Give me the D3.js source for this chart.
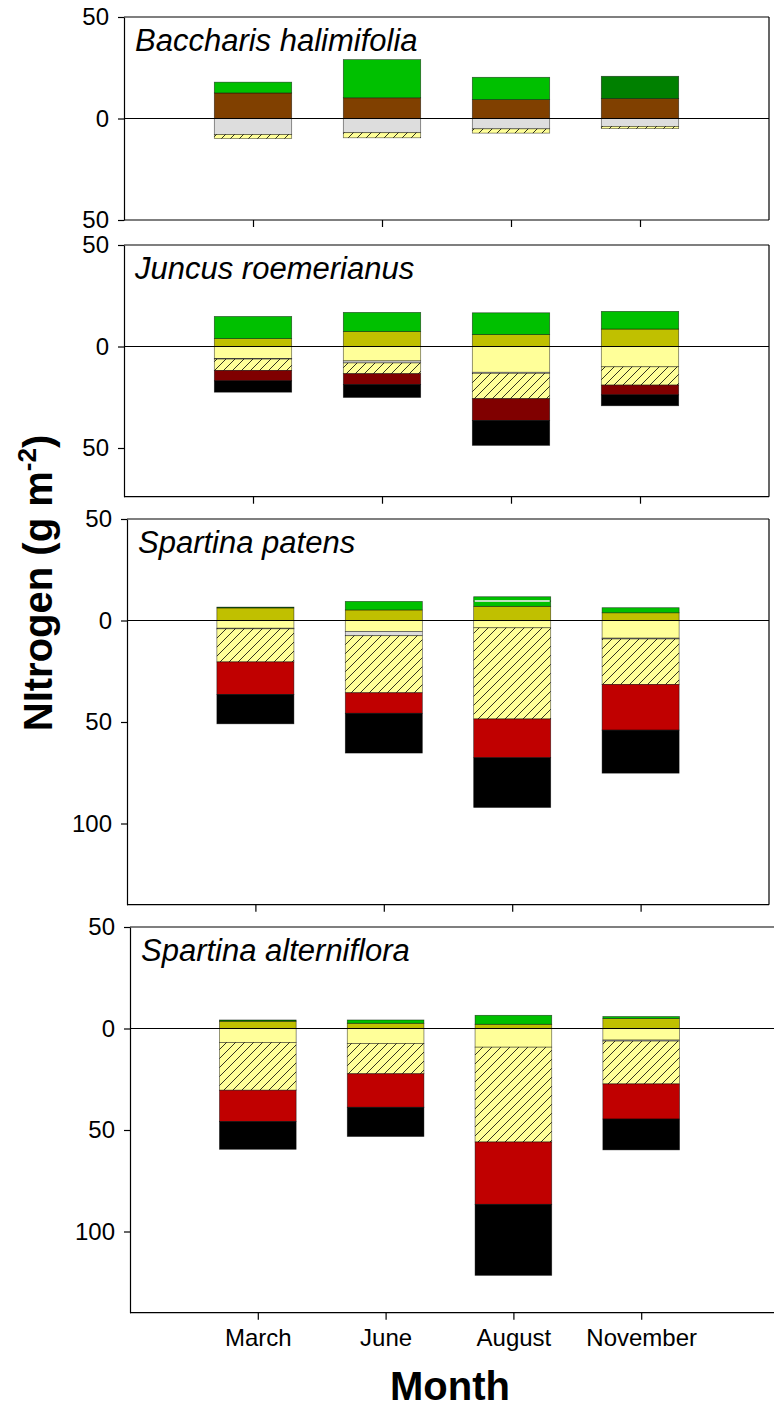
<!DOCTYPE html>
<html>
<head>
<meta charset="utf-8">
<script src="https://cdn.jsdelivr.net/npm/d3@7"></script>
<style>
body { margin: 0; background: #fff; }
svg { display: block; font-family: "Liberation Sans", Arial, sans-serif; }
</style>
</head>
<body>
<div class="graph"></div>
<script>
const months = ["March", "June", "August", "November"];
const species = ["Baccharis halimifolia", "Juncus roemerianus", "Spartina patens", "Spartina alterniflora"];

// above ground pools, stacked up from zero (one row per species, one value per month)
const brown     = [[12.6, 10.2, 9.3, 9.8], [0, 0, 0, 0], [0, 0, 0, 0], [0, 0, 0, 0]];
const olive     = [[0, 0, 0, 0], [3.9, 7.4, 5.9, 8.6], [6.2, 5.2, 7.0, 3.8], [3.6, 2.6, 2.1, 4.9]];
const green     = [[5.3, 18.8, 11.0, 0], [10.9, 9.4, 10.7, 8.7], [0, 4.2, 2.6, 2.5], [0, 1.6, 4.4, 1.0]];
const green2    = [[0, 0, 0, 0], [0, 0, 0, 0], [0, 0, 2.1, 0], [0, 0, 0, 0]];
const darkGreen = [[0, 0, 0, 11.0], [0, 0, 0, 0], [0.4, 0, 0, 0], [0.6, 0, 0, 0]];

// below ground pools, stacked down from zero
const yellow  = [[0, 0, 0, 0], [5.9, 7.1, 12.7, 10.0], [3.8, 5.4, 3.6, 8.7], [6.9, 7.4, 9.2, 5.7]];
const gray    = [[7.9, 7.0, 5.1, 3.9], [0.3, 1.0, 0.5, 0], [0.3, 2.1, 0, 0.4], [0, 0, 0, 0.5]];
const hatched = [[2.0, 2.5, 2.1, 1.1], [5.6, 5.3, 12.5, 9.0], [16.3, 28.1, 44.9, 22.4], [23.5, 14.9, 46.7, 21.1]];
const red     = [[0, 0, 0, 0], [0, 0, 0, 0], [16.0, 10.1, 19.1, 22.5], [15.4, 16.5, 30.7, 17.3]];
const darkRed = [[0, 0, 0, 0], [5.1, 5.3, 10.7, 4.8], [0, 0, 0, 0], [0, 0, 0, 0]];
const black   = [[0, 0, 0, 0], [5.6, 6.4, 12.3, 5.4], [14.5, 19.6, 24.5, 21.2], [13.7, 14.4, 35.0, 15.2]];

const yMin = [-50, -74, -140, -140];
const yMax = 50;
const yTicks = [[50, 0, -50], [50, 0, -50], [50, 0, -50, -100], [50, 0, -50, -100]];

const series = [
  {key: "brown", vals: brown, sign: 1, fill: "#804000"},
  {key: "olive", vals: olive, sign: 1, fill: "#c0c000"},
  {key: "green", vals: green, sign: 1, fill: "#00c000"},
  {key: "green2", vals: green2, sign: 1, fill: "#00c000"},
  {key: "darkGreen", vals: darkGreen, sign: 1, fill: "#008000"},
  {key: "yellow", vals: yellow, sign: -1, fill: "#ffff99"},
  {key: "gray", vals: gray, sign: -1, fill: "#dddddd"},
  {key: "hatched", vals: hatched, sign: -1, fill: "url(#hatch)"},
  {key: "red", vals: red, sign: -1, fill: "#c00000"},
  {key: "darkRed", vals: darkRed, sign: -1, fill: "#800000"},
  {key: "black", vals: black, sign: -1, fill: "#000000"}
];
const fillOf = {};
series.forEach(s => fillOf[s.key] = s.fill);

const w = 774, h = 1411;
const pxPerUnit = 2.03;
const panelTop = [17, 245, 519, 927];
const panelLeft = [124, 124, 127, 130];
const right = 769;

const svg = d3.select(".graph").append("svg")
  .attr("width", w).attr("height", h);

const pat = svg.append("defs").append("pattern")
  .attr("id", "hatch")
  .attr("patternUnits", "userSpaceOnUse")
  .attr("width", 9).attr("height", 9);
pat.append("rect").attr("width", 9).attr("height", 9).attr("fill", "#ffff99");
pat.append("path").attr("d", "M-1,10 L10,-1 M-2,2 L2,-2 M7,11 L11,7")
  .attr("stroke", "#000").attr("stroke-width", 0.8);

species.forEach((sp, p) => {
  const top = panelTop[p];
  const bottom = top + (yMax - yMin[p]) * pxPerUnit;
  const left = panelLeft[p];

  const x = d3.scalePoint().domain(months).range([left, right]).padding(1);
  const y = d3.scaleLinear().domain([yMin[p], yMax]).range([bottom, top]);
  const bw = x.step() * 0.6;

  const rows = months.map((m, i) => {
    const r = {month: m};
    series.forEach(s => r[s.key] = s.sign * s.vals[p][i]);
    return r;
  });
  const stacked = d3.stack()
    .keys(series.map(s => s.key))
    .offset(d3.stackOffsetDiverging)(rows);

  const g = svg.append("g");

  // bars
  g.selectAll("g.layer")
    .data(stacked)
    .join("g")
    .attr("class", "layer")
    .attr("fill", d => fillOf[d.key])
    .selectAll("rect")
    .data(d => d.filter(v => v[1] !== v[0]))
    .join("rect")
    .attr("x", v => x(v.data.month) - bw / 2)
    .attr("y", v => y(Math.max(v[0], v[1])))
    .attr("width", bw)
    .attr("height", v => Math.abs(y(v[0]) - y(v[1])))
    .attr("stroke", "#000")
    .attr("stroke-opacity", 0.6)
    .attr("stroke-width", 0.7);

  // white seam between the two green pieces
  const g2 = stacked.find(s => s.key === "green2");
  g.selectAll("line.seam")
    .data(g2.filter(v => v[1] !== v[0]))
    .join("line")
    .attr("class", "seam")
    .attr("x1", v => x(v.data.month) - bw / 2 + 1)
    .attr("x2", v => x(v.data.month) + bw / 2 - 1)
    .attr("y1", v => y(v[0])).attr("y2", v => y(v[0]))
    .attr("stroke", "#fff").attr("stroke-width", 1.5);

  // frame
  const edge = p === 3 ? w : right;
  g.append("line").attr("x1", left).attr("x2", edge).attr("y1", top).attr("y2", top)
    .attr("stroke", "#000").attr("stroke-width", 1.2);
  if (p !== 3) {
    g.append("line").attr("x1", right).attr("x2", right).attr("y1", top).attr("y2", bottom)
      .attr("stroke", "#000").attr("stroke-width", 1.2);
  }

  // zero line
  g.append("line").attr("x1", left).attr("x2", edge).attr("y1", y(0)).attr("y2", y(0))
    .attr("stroke", "#000").attr("stroke-width", 1);

  const yAxis = d3.axisLeft(y).tickValues(yTicks[p])
    .tickFormat(d => Math.abs(d)).tickSize(6).tickSizeOuter(0).tickPadding(9);
  const ya = g.append("g").attr("transform", "translate(" + left + ",0)").call(yAxis);
  ya.selectAll("text").attr("font-size", 24).attr("fill", "#000");
  ya.selectAll("path,line").attr("stroke", "#000").attr("stroke-width", 1.2);

  const xAxis = d3.axisBottom(x).tickSize(7).tickSizeOuter(0).tickPadding(9);
  if (p !== 3) xAxis.tickFormat("");
  const xa = g.append("g").attr("transform", "translate(0," + bottom + ")").call(xAxis);
  xa.select(".domain").attr("d", "M" + left + ",0H" + edge);
  xa.selectAll("text").attr("font-size", 24).attr("fill", "#000");
  xa.selectAll("path,line").attr("stroke", "#000").attr("stroke-width", 1.2);

  g.append("text")
    .attr("x", left + 11).attr("y", top + 34)
    .attr("font-size", 31).attr("font-style", "italic")
    .text(sp);
});

svg.append("text")
  .attr("x", 450).attr("y", 1400)
  .attr("text-anchor", "middle")
  .attr("font-size", 40).attr("font-weight", "bold")
  .text("Month");

const yt = svg.append("text")
  .attr("transform", "translate(52,583) rotate(-90)")
  .attr("text-anchor", "middle")
  .attr("font-size", 40).attr("font-weight", "bold");
yt.append("tspan").text("NItrogen (g m");
yt.append("tspan").attr("font-size", 26).attr("dy", -16).text("-2");
yt.append("tspan").attr("dy", 16).text(")");
</script>
</body>
</html>
